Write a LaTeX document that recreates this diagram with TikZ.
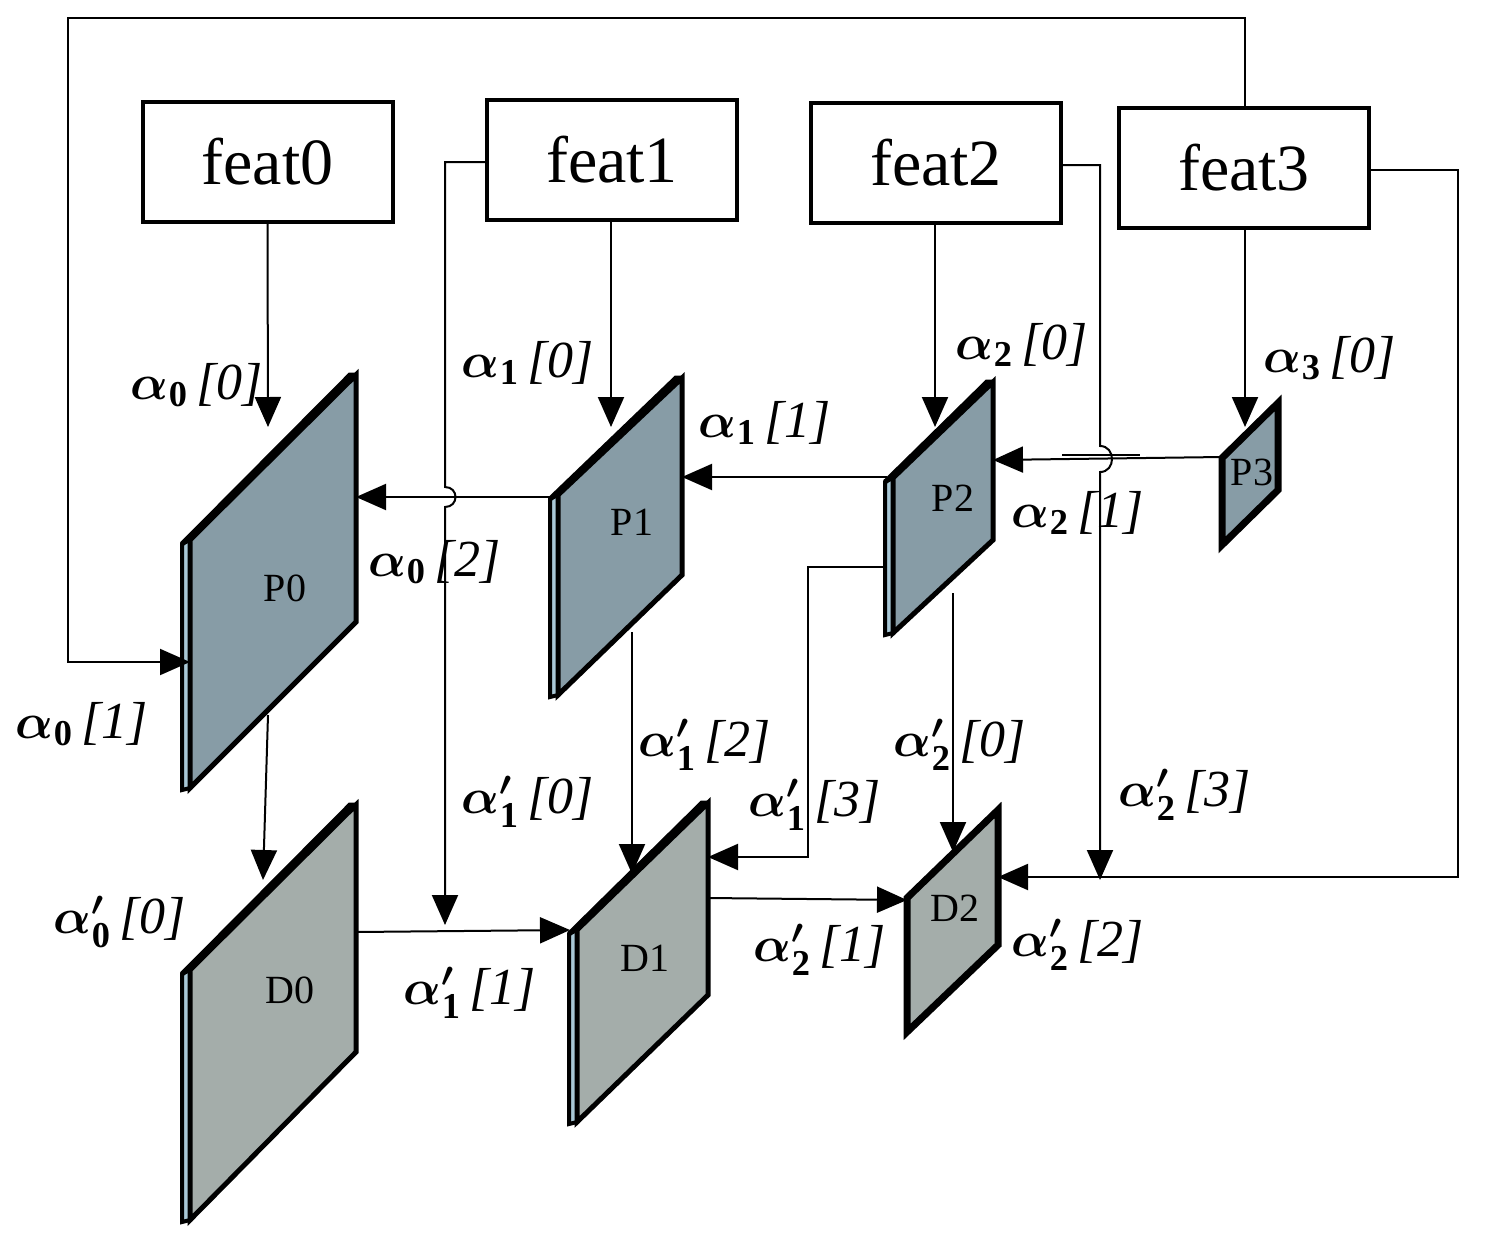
\documentclass[tikz,border=0pt]{standalone}
\usepackage{fontspec}
\setmainfont{Liberation Serif}
\usepackage{amsmath,amsbsy}
\usetikzlibrary{arrows.meta}
\definecolor{pc}{HTML}{879CA6}
\definecolor{dc}{HTML}{A4ADAA}
\definecolor{sc}{HTML}{A9C8D6}
\tikzset{
 box/.style={draw,line width=2pt,minimum width=125pt,minimum height=60pt,font=\fontsize{33}{33}\selectfont,inner sep=0pt},
 con/.style={line width=1pt},
 arr/.style={con,-{Triangle[length=15pt,width=13pt]}},
 lab/.style={font=\fontsize{26}{26}\selectfont,inner sep=0pt},
 slabtxt/.style={font=\fontsize{20}{20}\selectfont,inner sep=0pt}
}
\newcommand{\myslab}[8]{%
  \ifnum#8=1
  \fill[sc] (#1-8,#2+4) -- (#1,#2) -- (#1,#3) -- (#1-8,#3+2) -- cycle;
  \draw[line width=2pt] (#1-8,#2+4) -- (#1,#2) -- (#1,#3) -- (#1-8,#3+2) -- cycle;
  \draw[line width=2.5pt] (#1-8,#2+4) -- (#4-6,#5) -- (#4,#5);
  \fill[#7] (#1,#2) -- (#4,#5) -- (#4,#6) -- (#1,#3) -- cycle;
  \draw[line width=2.5pt,line join=miter] (#1,#2) -- (#4,#5) -- (#4,#6) -- (#1,#3) -- cycle;
  \else
  \fill[#7] (#1,#2) -- (#4,#5) -- (#4,#6) -- (#1,#3) -- cycle;
  \draw[line width=3.5pt,line join=miter] (#1,#2) -- (#4,#5) -- (#4,#6) -- (#1,#3) -- cycle;
  \fi
}
\newcommand{\al}[3]{$\boldsymbol{\alpha}_{\mathbf{#1}}$\,\textit{[#2]}}
\newcommand{\alp}[2]{$\boldsymbol{\alpha}^{\boldsymbol{\prime}}_{\mathbf{#1}}$\,\textit{[#2]}}
\begin{document}
\begin{tikzpicture}[x=0.5pt,y=-0.5pt]
\useasboundingbox (0,0) rectangle (1489,1242);
\myslab{190}{540}{788}{356}{375}{622}{pc}{1}
\myslab{558}{495}{695}{682}{378}{575}{pc}{1}
\myslab{893}{478}{633}{993}{382}{540}{pc}{1}
\myslab{1222}{458}{545}{1278}{403}{490}{pc}{0}
\myslab{190}{970}{1220}{356}{805}{1052}{dc}{1}
\myslab{577}{930}{1122}{708}{803}{995}{dc}{1}
\myslab{907}{898}{1032}{998}{810}{945}{dc}{0}
\node[slabtxt] (P0) at (285,588) {P0};
\node[slabtxt] (P1) at (632,522) {P1};
\node[slabtxt] (P2) at (953,498) {P2};
\node[slabtxt] (P3) at (1252,472) {P3};
\node[slabtxt] (D0) at (290,990) {D0};
\node[slabtxt] (D1) at (645,958) {D1};
\node[slabtxt] (D2) at (955,908) {D2};
\node[box] (f0) at (267.5,162) {feat0};
\node[box] (f1) at (612,160) {feat1};
\node[box] (f2) at (936,163) {feat2};
\node[box] (f3) at (1244,168) {feat3};
\coordinate (p0t) at (268,427); \coordinate (p1t) at (611,427);
\coordinate (p2t) at (935,427); \coordinate (p3t) at (1245,427);
\coordinate (p0l) at (190,662); \coordinate (p0r) at (356,497);
\coordinate (p1l) at (550,497); \coordinate (p1r) at (682,477);
\coordinate (p2l) at (887,477); \coordinate (p2r) at (993,460);
\coordinate (p3l) at (1222,457);
\coordinate (d0t) at (263,880); \coordinate (d1t) at (632,874);
\coordinate (d1r) at (708,857); \coordinate (d2t) at (953,852);
\coordinate (d0r) at (356,932); \coordinate (d1l) at (570,930);
\coordinate (d1r2) at (708,898); \coordinate (d2l) at (907,900);
\coordinate (d2r) at (998,877);
\draw[arr] (f0.south) -- (p0t);
\draw[arr] (f1.south -| p1t) -- (p1t);
\draw[arr] (f2.south -| p2t) -- (p2t);
\draw[arr] (f3.south -| p3t) -- (p3t);
\draw[arr] (f3.north -| p3t) -- (1245,18) -- (68,18) -- (68,662) -- (p0l);
\draw[arr] (p1l) -- (p0r);
\draw[arr] (p2l) -- (p1r);
\draw[arr] (p3l) -- (p2r);
\draw[con] (1062,455) -- (1140,455);
\draw[arr] (f1.west |- 0,162) -- (445,162) -- (445,487) .. controls (459,487) and (459,507) .. (445,507) -- (445,925);
\draw[arr] (f2.east |- 0,165) -- (1100,165) -- (1100,446) .. controls (1116,446) and (1116,472) .. (1100,472) -- (1100,880);
\draw[arr] (f3.east |- 0,170) -- (1458,170) -- (1458,877) -- (d2r);
\draw[arr] (268,715) -- (d0t);
\draw[arr] (632,632) -- (d1t);
\draw[arr] (887,567) -- (808,567) -- (808,857) -- (d1r);
\draw[arr] (953,593) -- (d2t);
\draw[arr] (d0r) -- (d1l);
\draw[arr] (d1r2) -- (d2l);
\node[lab] at (197,385) {\al{0}{0}{}};
\node[lab] at (528,363) {\al{1}{0}{}};
\node[lab] at (1022,345) {\al{2}{0}{}};
\node[lab] at (1330,358) {\al{3}{0}{}};
\node[lab] at (765,423) {\al{1}{1}{}};
\node[lab] at (435,562) {\al{0}{2}{}};
\node[lab] at (1078,513) {\al{2}{1}{}};
\node[lab] at (82,724) {\al{0}{1}{}};
\node[lab] at (705,745) {\alp{1}{2}};
\node[lab] at (815,805) {\alp{1}{3}};
\node[lab] at (528,802) {\alp{1}{0}};
\node[lab] at (960,745) {\alp{2}{0}};
\node[lab] at (1185,795) {\alp{2}{3}};
\node[lab] at (120,922) {\alp{0}{0}};
\node[lab] at (470,993) {\alp{1}{1}};
\node[lab] at (820,950) {\alp{2}{1}};
\node[lab] at (1078,945) {\alp{2}{2}};
\end{tikzpicture}
\end{document}
